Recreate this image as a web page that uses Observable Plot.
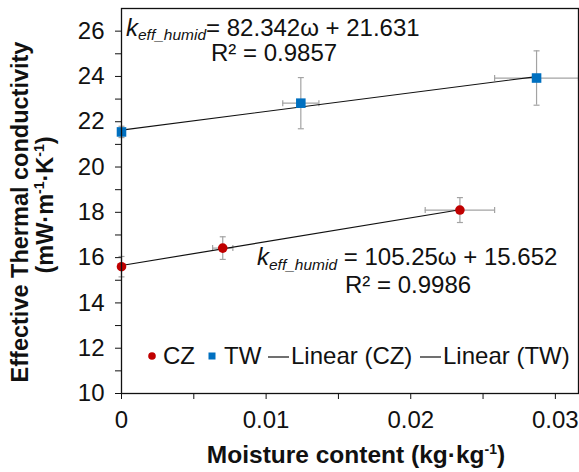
<!DOCTYPE html>
<html>
<head>
<meta charset="utf-8">
<script src="https://cdn.jsdelivr.net/npm/d3@7"></script>
<script src="https://cdn.jsdelivr.net/npm/@observablehq/plot@0.6"></script>
<style>
  body { margin: 0; background: #fff; }
  #chart svg { display: block; }
</style>
</head>
<body>
<div id="chart"></div>
<script>
// Measured series: moisture content (kg/kg) vs effective thermal conductivity (mW/(m·K))
const seriesNames = ["CZ", "TW"];
const czMoisture = [0, 0.0070, 0.0234];
const czConductivity = [15.60, 16.42, 18.10];
const czMoistureErr = [0, 0.0007, 0.0024];
const czConductivityErr = [0.45, 0.50, 0.55];
const twMoisture = [0, 0.0124, 0.0287];
const twConductivity = [21.55, 22.82, 23.93];
const twMoistureErr = [0, 0.00125, 0.0029];
const twConductivityErr = [0.25, 1.13, 1.20];

// Linear fits (CZ, TW)
const fitSlopes = [105.25, 82.342];
const fitIntercepts = [15.652, 21.631];
const fitR2 = [0.9986, 0.9857];

// Axis ticks
const xTicks = [0, 0.005, 0.01, 0.015, 0.02, 0.025, 0.03];
const xTickLabels = ["0", "", "0.01", "", "0.02", "", "0.03"];
const yTicks = [10, 11, 12, 13, 14, 15, 16, 17, 18, 19, 20, 21, 22, 23, 24, 25, 26];
const yTickLabels = ["10", "", "12", "", "14", "", "16", "", "18", "", "20", "", "22", "", "24", "", "26"];

const colors = {CZ: "#c00000", TW: "#0070c0"};
const FONT = "'Liberation Sans', Arial, Helvetica, sans-serif";

function rowsFor(name, m, k, mErr, kErr) {
  return m.map((v, i) => ({series: name, m: v, k: k[i], mErr: mErr[i], kErr: kErr[i]}));
}
const rows = [
  ...rowsFor("CZ", czMoisture, czConductivity, czMoistureErr, czConductivityErr),
  ...rowsFor("TW", twMoisture, twConductivity, twMoistureErr, twConductivityErr)
];
const xErrRows = rows.filter(d => d.mErr > 0);
const yErrRows = rows.filter(d => d.kErr > 0);

// Trend lines span each series' moisture range, from the fitted equation
const fitLines = seriesNames.flatMap((name, i) => {
  const xs = i === 0 ? czMoisture : twMoisture;
  return [d3.min(xs), d3.max(xs)].map(x => ({series: name, m: x, k: fitSlopes[i] * x + fitIntercepts[i]}));
});

// Error-bar caps as custom symbols
const capH = {draw(ctx, size) { const r = Math.sqrt(size / Math.PI); ctx.moveTo(-r, 0); ctx.lineTo(r, 0); }};
const capV = {draw(ctx, size) { const r = Math.sqrt(size / Math.PI); ctx.moveTo(0, -r); ctx.lineTo(0, r); }};
const errColor = "#a3a3a3";

const plot = Plot.plot({
  width: 579,
  height: 472,
  marginLeft: 121,
  marginRight: 1,
  marginTop: 8,
  marginBottom: 79,
  style: {fontFamily: FONT, fontSize: "24px", color: "#111", background: "#fff"},
  x: {domain: [0, 0.0316]},
  y: {domain: [10, 27]},
  marks: [
    Plot.axisX({ticks: xTicks, tickFormat: d => xTickLabels[xTicks.indexOf(d)], tickSize: 6, tickPadding: 11, fontSize: 24, label: null, stroke: "#111"}),
    Plot.axisY({ticks: yTicks, tickFormat: d => yTickLabels[yTicks.indexOf(d)], tickSize: 6, tickPadding: 11, fontSize: 24, label: null, stroke: "#111"}),
    // error bars
    Plot.ruleX(yErrRows, {x: "m", y1: d => d.k - d.kErr, y2: d => d.k + d.kErr, stroke: errColor, strokeWidth: 1.2}),
    Plot.ruleY(xErrRows, {y: "k", x1: d => d.m - d.mErr, x2: d => d.m + d.mErr, stroke: errColor, strokeWidth: 1.2}),
    Plot.dot(yErrRows, {x: "m", y: d => d.k - d.kErr, symbol: capH, r: 3, fill: "none", stroke: errColor, strokeWidth: 1.2}),
    Plot.dot(yErrRows, {x: "m", y: d => d.k + d.kErr, symbol: capH, r: 3, fill: "none", stroke: errColor, strokeWidth: 1.2}),
    Plot.dot(xErrRows, {x: d => d.m - d.mErr, y: "k", symbol: capV, r: 3, fill: "none", stroke: errColor, strokeWidth: 1.2}),
    Plot.dot(xErrRows, {x: d => d.m + d.mErr, y: "k", symbol: capV, r: 3, fill: "none", stroke: errColor, strokeWidth: 1.2}),
    // linear fits
    Plot.line(fitLines, {x: "m", y: "k", z: "series", stroke: "#111", strokeWidth: 1.2}),
    // measured points
    Plot.dot(rows.filter(d => d.series === "CZ"), {x: "m", y: "k", symbol: "circle", r: 4.8, fill: colors.CZ, stroke: "none"}),
    Plot.dot(rows.filter(d => d.series === "TW"), {x: "m", y: "k", symbol: "square", r: 5.4, fill: colors.TW, stroke: "none"}),
    Plot.frame({stroke: "#111", strokeWidth: 1.3})
  ]
});

document.getElementById("chart").appendChild(plot);

const svg = d3.select(plot);

// Text with mixed runs (italic / subscript / superscript)
function richText(x, y, runs, attrs = {}, size = 24) {
  const t = svg.append("text")
    .attr("x", x).attr("y", y)
    .attr("fill", "#111")
    .attr("text-anchor", "start")
    .style("font-family", FONT)
    .style("font-size", size + "px");
  Object.entries(attrs).forEach(([k, v]) => t.attr(k, v));
  runs.forEach(r => {
    const s = t.append("tspan").text(r.t);
    if (r.size) s.style("font-size", r.size + "px");
    if (r.italic) s.style("font-style", "italic");
    if (r.dy) s.attr("dy", r.dy);
  });
  return t;
}

// Fit equations
richText(126, 36, [
  {t: "k", italic: true},
  {t: "eff_humid", italic: true, size: 15.5, dy: 4},
  {t: `= ${fitSlopes[1]}ω + ${fitIntercepts[1]}`, dy: -4}
]);
richText(211, 61, [{t: `R² = ${fitR2[1]}`}]);

richText(257, 265, [
  {t: "k", italic: true},
  {t: "eff_humid", italic: true, size: 15.5, dy: 5},
  {t: ` = ${fitSlopes[0]}ω + ${fitIntercepts[0]}`, dy: -5}
]);
richText(345, 293, [{t: `R² = ${fitR2[0]}`}]);

// Legend inside the plot area
const ly = 364, lmid = 356;
svg.append("circle").attr("cx", 152).attr("cy", lmid).attr("r", 3.8).attr("fill", colors.CZ);
richText(163, ly, [{t: seriesNames[0]}]);
svg.append("rect").attr("x", 208.5).attr("y", lmid - 3.5).attr("width", 7).attr("height", 7).attr("fill", colors.TW);
richText(224, ly, [{t: seriesNames[1]}]);
svg.append("line").attr("x1", 268).attr("x2", 289).attr("y1", lmid + 1).attr("y2", lmid + 1).attr("stroke", "#111").attr("stroke-width", 1.2);
richText(291, ly, [{t: `Linear (${seriesNames[0]})`}]);
svg.append("line").attr("x1", 420).attr("x2", 441).attr("y1", lmid + 1).attr("y2", lmid + 1).attr("stroke", "#111").attr("stroke-width", 1.2);
richText(443, ly, [{t: `Linear (${seriesNames[1]})`}]);

// Axis titles
richText(356, 463, [
  {t: "Moisture content (kg·kg"},
  {t: "-1", size: 14, dy: -9},
  {t: ")", dy: 9}
], {"text-anchor": "middle", "font-weight": "bold"}, 24.5);

richText(0, 0, [{t: "Effective Thermal conductivity"}],
  {"text-anchor": "middle", "font-weight": "bold", transform: "translate(28,212) rotate(-90)"}, 23.5);
richText(0, 0, [
  {t: "(mW·m"},
  {t: "-1", size: 14, dy: -9},
  {t: "·K", dy: 9},
  {t: "-1", size: 14, dy: -9},
  {t: ")", dy: 9}
], {"text-anchor": "middle", "font-weight": "bold", transform: "translate(53,205) rotate(-90)"}, 23.5);
</script>
</body>
</html>
